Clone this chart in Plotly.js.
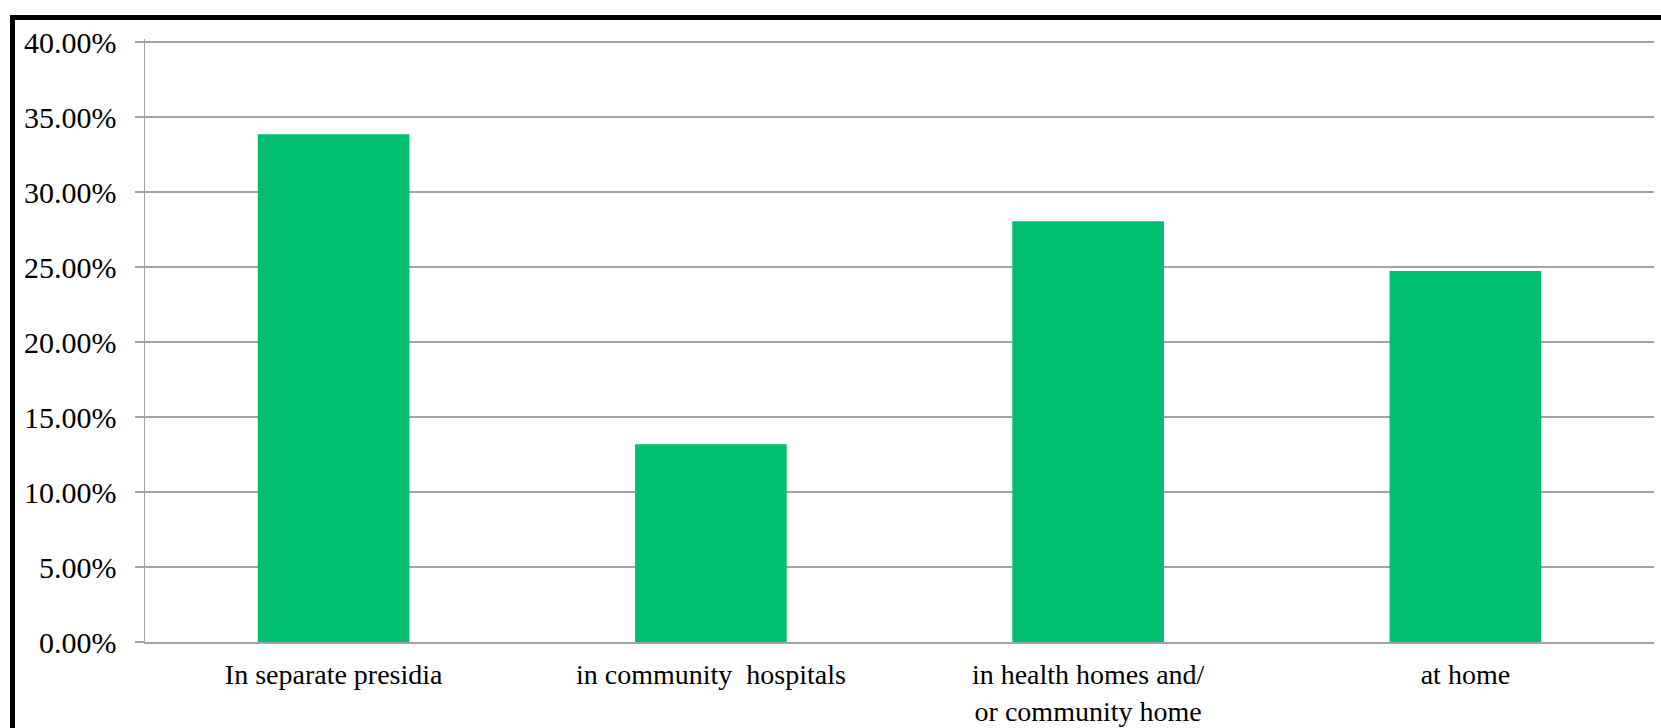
<!DOCTYPE html>
<html>
<head>
<meta charset="utf-8">
<script src="https://cdn.plot.ly/plotly-3.0.1.min.js"></script>
<style>
  html, body { margin: 0; padding: 0; background: #fff; }
  #chart { width: 1661px; height: 728px; }
  #frame { position: absolute; left: 10px; top: 15px; right: 0; bottom: 0;
           border-top: 5px solid #000; border-left: 5px solid #000; pointer-events: none; }
</style>
</head>
<body>
<div id="chart"></div>
<div id="frame"></div>
<script>
const categories = [
  "In separate presidia",
  "in community\u00a0 hospitals",
  "in health homes and/<br>or community home",
  "at home"
];
const values = [33.85, 13.18, 28.05, 24.73];
const yTicks = [0, 5, 10, 15, 20, 25, 30, 35, 40];
const yTickText = yTicks.map(v => v.toFixed(2) + "%");

const gridColor = "#a3a3a3";
const serif = "Liberation Serif, Times New Roman, serif";

Plotly.newPlot("chart", [{
  type: "bar",
  x: categories,
  y: values,
  marker: { color: "#00bf6f" },
  hoverinfo: "x+y"
}], {
  width: 1661,
  height: 728,
  margin: { l: 145, r: 7, t: 39, b: 86 },
  paper_bgcolor: "#fff",
  plot_bgcolor: "#fff",
  bargap: 0.598,
  showlegend: false,
  xaxis: {
    type: "category",
    showgrid: false,
    showline: true,
    linecolor: gridColor,
    linewidth: 1.5,
    ticks: "",
    ticklabelstandoff: 7,
    tickfont: { family: serif, size: 28, color: "#000" }
  },
  yaxis: {
    range: [0, 40.2],
    tickvals: yTicks,
    ticktext: yTickText,
    showgrid: true,
    gridcolor: gridColor,
    gridwidth: 1.5,
    zeroline: false,
    showline: true,
    linecolor: gridColor,
    linewidth: 1.5,
    ticks: "outside",
    ticklen: 9,
    tickcolor: gridColor,
    tickwidth: 1.5,
    ticklabelstandoff: 12,
    tickfont: { family: serif, size: 30, color: "#000" }
  }
}, { displayModeBar: false, staticPlot: true });
</script>
</body>
</html>
